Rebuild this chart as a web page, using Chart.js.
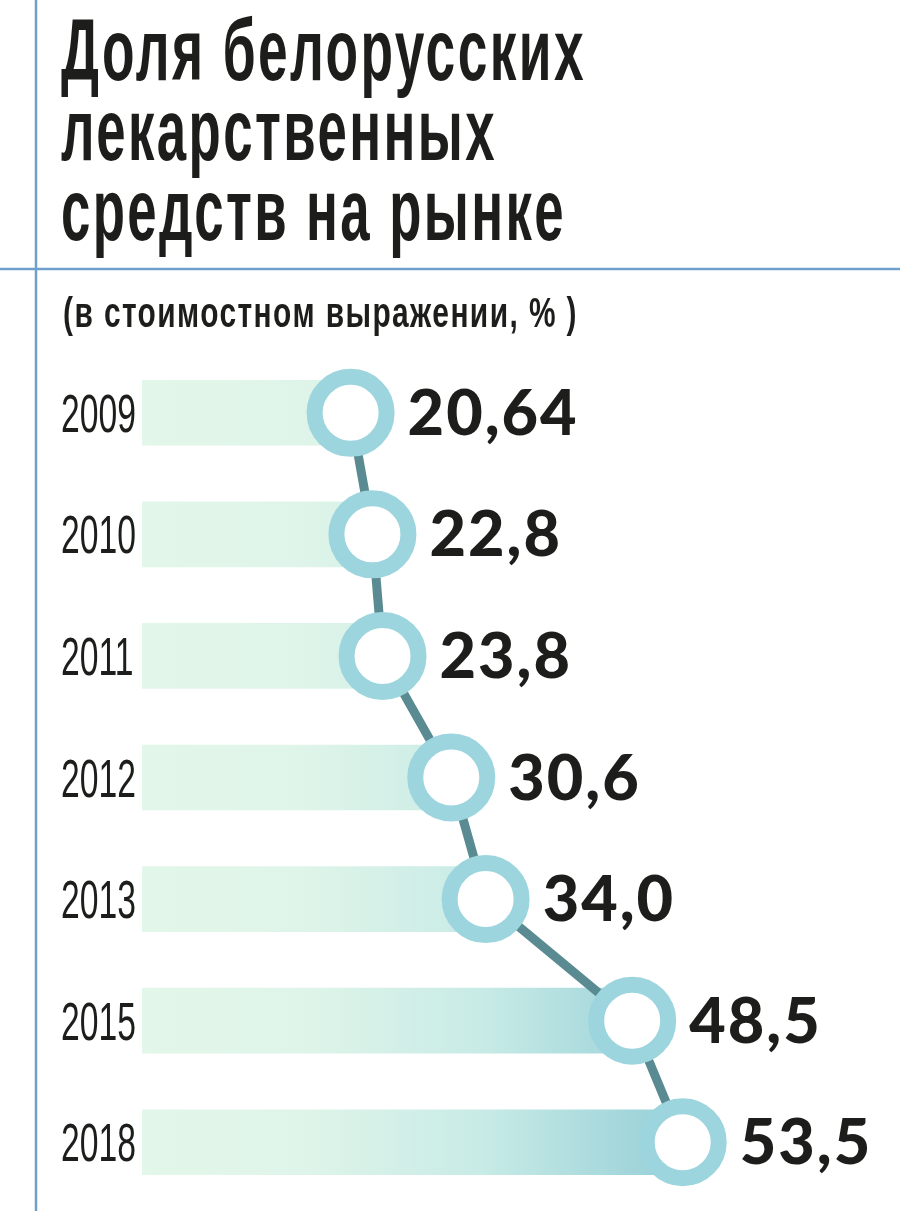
<!DOCTYPE html>
<html lang="ru">
<head>
<meta charset="utf-8">
<title>Доля белорусских лекарственных средств на рынке</title>
<script src="https://cdn.jsdelivr.net/npm/chart.js@4/dist/chart.umd.min.js"></script>
<style>
    html, body { margin: 0; padding: 0; background: #fff; }
    #wrap { position: relative; width: 900px; height: 1211px; }
</style>
</head>
<body>
<div id="wrap"><canvas id="shareChart" width="900" height="1211"></canvas></div>
<script>
var years = ['2009', '2010', '2011', '2012', '2013', '2015', '2018'];
var shares = [20.64, 22.8, 23.8, 30.6, 34.0, 48.5, 53.5];
var shareLabels = ['20,64', '22,8', '23,8', '30,6', '34,0', '48,5', '53,5'];
var titleLines = ['Доля белорусских', 'лекарственных', 'средств на рынке'];
var subtitle = '(в стоимостном выражении, % )';

var ink = '#1d1d1b',
    ruleColor = '#6fa0cc',
    ringColor = '#9dd5df',
    lineColor = '#5b8b92',
    narrow = '"Liberation Sans Narrow", "Liberation Sans", sans-serif';

// draws text squeezed horizontally so that it spans the given width
function drawFitted(ctx, text, font, x, baseline, width) {
    ctx.font = font;
    var w = ctx.measureText(text).width;
    ctx.save();
    ctx.translate(x, baseline);
    ctx.scale(width / w, 1);
    ctx.fillText(text, 0, 0);
    ctx.restore();
}

function barGradient(context) {
    var chart = context.chart,
        x = chart.scales.x;
    if (!chart.chartArea || !x) {
        return '#e2f6e9';
    }
    var g = chart.ctx.createLinearGradient(x.getPixelForValue(0), 0, x.getPixelForValue(54), 0);
    g.addColorStop(0, '#e2f6e9');
    g.addColorStop(0.28, '#e0f5e9');
    g.addColorStop(0.62, '#c8ebe6');
    g.addColorStop(1, '#94ced7');
    return g;
}

var frame = {
    id: 'frame',
    beforeDraw: function (chart) {
        var ctx = chart.ctx;
        ctx.save();
        ctx.strokeStyle = ruleColor;
        ctx.lineWidth = 2.5;
        ctx.beginPath();
        ctx.moveTo(36, 0);
        ctx.lineTo(36, chart.height);
        ctx.moveTo(0, 269);
        ctx.lineTo(chart.width, 269);
        ctx.stroke();

        ctx.fillStyle = ink;
        ctx.textBaseline = 'alphabetic';
        ctx.textAlign = 'left';
        ctx.letterSpacing = '4px';
        drawFitted(ctx, titleLines[0], 'bold 88px ' + narrow, 61, 80, 525);
        drawFitted(ctx, titleLines[1], 'bold 88px ' + narrow, 61, 160, 436);
        drawFitted(ctx, titleLines[2], 'bold 88px ' + narrow, 61, 240, 505);
        ctx.letterSpacing = '2px';
        drawFitted(ctx, subtitle, 'bold 42px ' + narrow, 63, 327, 515);
        ctx.restore();
    },
    afterDatasetsDraw: function (chart) {
        var ctx = chart.ctx,
            xs = chart.scales.x,
            ys = chart.scales.y,
            i, y, x, squeeze;

        ctx.save();
        ctx.fillStyle = ink;
        ctx.textAlign = 'left';
        ctx.textBaseline = 'alphabetic';

        // year labels
        ctx.font = '53px ' + narrow;
        squeeze = 75 / ctx.measureText(years[0]).width;
        for (i = 0; i < years.length; i += 1) {
            y = ys.getPixelForValue(i);
            ctx.save();
            ctx.translate(61, y + 19);
            ctx.scale(squeeze, 1);
            ctx.fillText(years[i], 0, 0);
            ctx.restore();
        }

        // value labels
        ctx.font = '900 63px Lato, "Open Sans", sans-serif';
        ctx.letterSpacing = '2px';
        for (i = 0; i < shares.length; i += 1) {
            x = xs.getPixelForValue(shares[i]);
            y = ys.getPixelForValue(i);
            ctx.fillText(shareLabels[i], x + 57, y + 22);
        }
        ctx.restore();
    }
};

var chart = new Chart(document.getElementById('shareChart').getContext('2d'), {
    type: 'bar',
    data: {
        labels: years,
        datasets: [
            {
                type: 'line',
                indexAxis: 'y',
                data: shares,
                borderColor: lineColor,
                borderWidth: 9,
                pointRadius: 36,
                pointHoverRadius: 36,
                pointBorderWidth: 16,
                pointBorderColor: ringColor,
                pointBackgroundColor: '#fff',
                clip: false,
                order: 0
            },
            {
                type: 'bar',
                indexAxis: 'y',
                data: shares,
                backgroundColor: barGradient,
                barThickness: 65,
                borderWidth: 0,
                order: 1
            }
        ]
    },
    options: {
        indexAxis: 'y',
        responsive: false,
        animation: false,
        devicePixelRatio: 1,
        layout: {autoPadding: false, padding: {left: 142, right: 0, top: 352, bottom: 8}},
        plugins: {
            legend: {display: false},
            tooltip: {enabled: false}
        },
        scales: {
            x: {type: 'linear', min: 0, max: 75, display: false},
            y: {type: 'category', offset: true, display: false}
        }
    },
    plugins: [frame]
});
</script>
</body>
</html>
